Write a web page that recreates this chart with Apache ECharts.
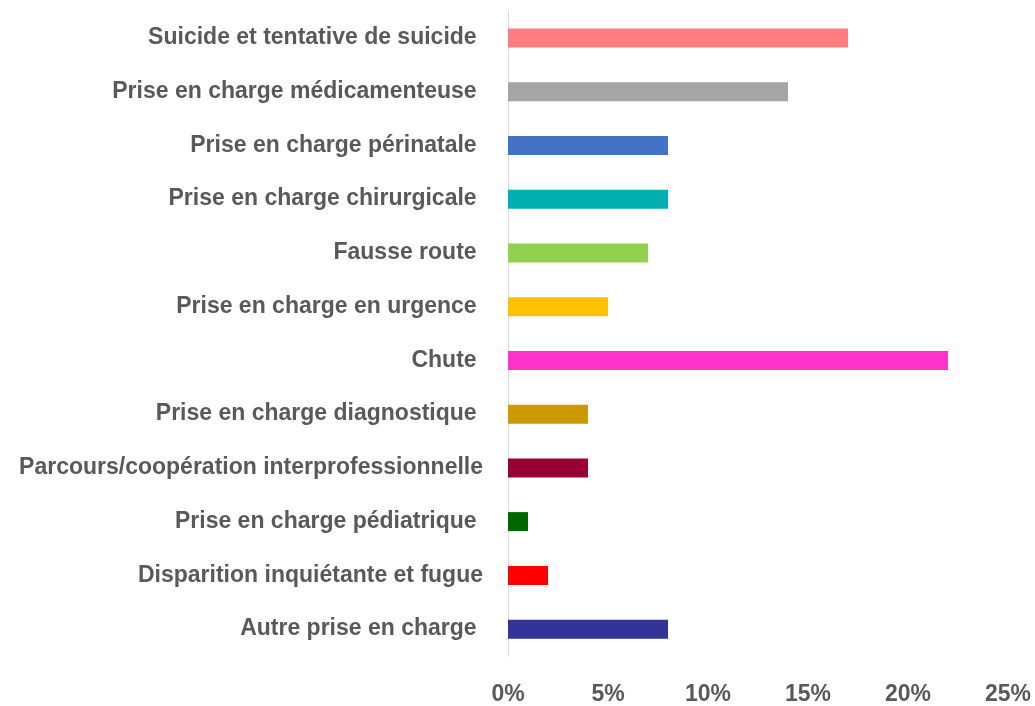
<!DOCTYPE html>
<html><head><meta charset="utf-8">
<script src="https://cdn.jsdelivr.net/npm/echarts@6/dist/echarts.min.js"></script>
<style>html,body{margin:0;padding:0;background:#fff}#c{width:1035px;height:706px}</style>
</head><body><div id="c"></div>
<script>
const categories = [
  "Suicide et tentative de suicide ",
  "Prise en charge médicamenteuse ",
  "Prise en charge périnatale ",
  "Prise en charge chirurgicale ",
  "Fausse route ",
  "Prise en charge en urgence ",
  "Chute ",
  "Prise en charge diagnostique ",
  "Parcours/coopération interprofessionnelle",
  "Prise en charge pédiatrique ",
  "Disparition inquiétante et fugue",
  "Autre prise en charge "
];
const values = [17, 14, 8, 8, 7, 5, 22, 4, 4, 1, 2, 8];
const colors = ["#FF7C80","#A5A5A5","#4472C4","#00B0B0","#92D050","#FFC000","#FF33CC","#CC9900","#990033","#006600","#FF0000","#333399"];

const chart = echarts.init(document.getElementById('c'));
const font = '"Liberation Sans Narrow", "Liberation Sans", sans-serif';
chart.setOption({
  animation: false,
  grid: {left: 508, right: 27, top: 11, bottom: 49, containLabel: false},
  xAxis: {
    type: 'value', min: 0, max: 25, interval: 5,
    axisLine: {show: false}, axisTick: {show: false}, splitLine: {show: false},
    axisLabel: {formatter: v => v + '%', color: '#595959', fontFamily: font, fontWeight: 'bold', fontSize: 23, margin: 27}
  },
  yAxis: {
    type: 'category', data: categories, inverse: true,
    axisLine: {show: true, lineStyle: {color: '#D9D9D9', width: 1}},
    axisTick: {show: false},
    axisLabel: {color: '#595959', fontFamily: font, fontWeight: 'bold', fontSize: 23, margin: 25, padding: [4, 0, 0, 0]}
  },
  series: [{
    type: 'bar', barWidth: 19,
    data: values.map((v, i) => ({value: v, itemStyle: {color: colors[i]}}))
  }]
});
</script></body></html>
